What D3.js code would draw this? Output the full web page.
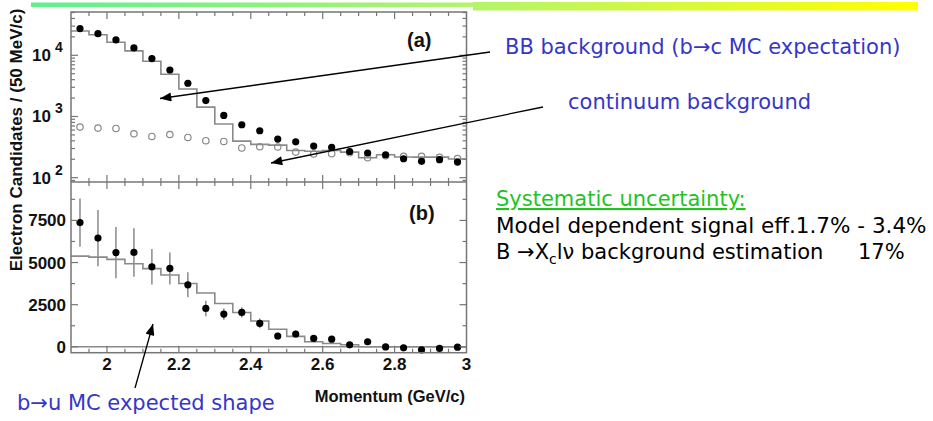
<!DOCTYPE html>
<html>
<head>
<meta charset="utf-8">
<script src="https://cdn.jsdelivr.net/npm/d3@7"></script>
<style>
  body { margin: 0; background: #fff; }
  svg { display: block; }
  .tick-label { font-family: "Liberation Sans", Arial, sans-serif; font-weight: bold; font-size: 17px; fill: #111; }
  .note { font-family: "DejaVu Sans", Verdana, sans-serif; font-size: 21px; }
</style>
</head>
<body>
<script>
var w = 933;
var h = 421;

// Data - momentum bin centres (GeV/c), 50 MeV bins
var momentum = [1.925, 1.975, 2.025, 2.075, 2.125, 2.175, 2.225, 2.275, 2.325, 2.375, 2.425,
                2.475, 2.525, 2.575, 2.625, 2.675, 2.725, 2.775, 2.825, 2.875, 2.925, 2.975];
var binWidth = 0.05;

// panel (a): on-resonance data, continuum, b->c MC
var onData    = [27300, 22600, 17800, 13200, 8840, 5750, 3490, 1820, 1040, 733, 585,
                 428, 386, 329, 312, 268, 253, 237, 204, 185, 197, 180];
var continuum = [671, 646, 637, 522, 472, 508, 454, 402, 391, 306, 320,
                 318, 262, 244, 247, 255, 212, 228, 223, 223, 215, 205];
var bcMC      = [24900, 21700, 16300, 11800, 7980, 4900, 2820, 1420, 752, 396, 350,
                 340, 278, 270, 278, 262, 212, 237, 218, 217, 217, 202];

// panel (b): background-subtracted yield and b->u MC
var signal    = [7370, 6450, 5590, 5600, 4750, 4650, 3680, 2275, 1940, 2040, 1390,
                 640, 760, 497, 455, 115, 300, -5, -60, -180, -95, -20];
var sigErr    = [1430, 1670, 1520, 1440, 1060, 950, 740, 460, 330, 300, 290,
                 200, 200, 180, 170, 160, 170, 150, 150, 150, 150, 150];
var buMC      = [5380, 5320, 5190, 4930, 4640, 4260, 3760, 3190, 2570, 2040, 1530,
                 1040, 620, 300, 200, 118, 0, 0, 0, 0, 0, 0];

var xTicks = [2, 2.2, 2.4, 2.6, 2.8, 3];
var logTicks = [100, 1000, 10000];
var linTicks = [0, 2500, 5000, 7500];

var svg = d3.select("body").append("svg")
    .attr("width", w)
    .attr("height", h);

// title bar gradient
var defs = svg.append("defs");
var grad = defs.append("linearGradient").attr("id", "bar")
    .attr("gradientUnits", "userSpaceOnUse")
    .attr("x1", 31).attr("x2", 918).attr("y1", 0).attr("y2", 0);
grad.append("stop").attr("offset", "0%").attr("stop-color", "#5ef08e");
grad.append("stop").attr("offset", "50%").attr("stop-color", "#b4f46c");
grad.append("stop").attr("offset", "100%").attr("stop-color", "#ffff00");
svg.append("rect").attr("x", 31).attr("y", 2.5).attr("width", 442).attr("height", 4.5).attr("fill", "url(#bar)");
svg.append("rect").attr("x", 473).attr("y", 2).attr("width", 445).attr("height", 8.5).attr("fill", "url(#bar)");

defs.append("marker").attr("id", "head")
    .attr("viewBox", "0 0 10 8")
    .attr("refX", 10).attr("refY", 4)
    .attr("markerUnits", "userSpaceOnUse")
    .attr("markerWidth", 13).attr("markerHeight", 9)
    .attr("orient", "auto")
  .append("path").attr("d", "M0,0L10,4L0,8Z").attr("fill", "#000");

// scales
var left = 71, right = 466.5;
var aTop = 12, mid = 182, bBot = 352.7;

var xScale = d3.scaleLinear().domain([1.9, 3.0]).range([left, right]);
var yLog = d3.scaleLog().domain([85, 51000]).range([mid, aTop]);
var yLin = d3.scaleLinear().domain([-350, 9780]).range([bBot, mid]);

var frameCol = "#767676";
var histCol = "#8a8a8a";

// histogram step helper
function stepPts(vals) {
    var pts = momentum.map(function(m, i) { return [m - binWidth / 2, vals[i]]; });
    pts.push([momentum[momentum.length - 1] + binWidth / 2, vals[vals.length - 1]]);
    return pts;
}

// ---- panel (a)
var gA = svg.append("g");
var histA = d3.line()
    .x(function(d) { return xScale(d[0]); })
    .y(function(d) { return yLog(d[1]); })
    .curve(d3.curveStepAfter);
gA.append("path")
    .attr("d", histA(stepPts(bcMC)))
    .attr("fill", "none").attr("stroke", histCol).attr("stroke-width", 1.6);

gA.selectAll("circle.cont")
    .data(continuum)
    .enter().append("circle")
    .attr("class", "cont")
    .attr("cx", function(d, i) { return xScale(momentum[i]); })
    .attr("cy", function(d) { return yLog(d); })
    .attr("r", 3.2)
    .attr("fill", "none").attr("stroke", "#888").attr("stroke-width", 1.2);

gA.selectAll("circle.on")
    .data(onData)
    .enter().append("circle")
    .attr("class", "on")
    .attr("cx", function(d, i) { return xScale(momentum[i]); })
    .attr("cy", function(d) { return yLog(d); })
    .attr("r", 3.6)
    .attr("fill", "#000");

// ---- panel (b)
var gB = svg.append("g");
gB.append("line")
    .attr("x1", left).attr("x2", right)
    .attr("y1", yLin(0)).attr("y2", yLin(0))
    .attr("stroke", histCol).attr("stroke-width", 1.4);

var histB = d3.line()
    .x(function(d) { return xScale(d[0]); })
    .y(function(d) { return yLin(d[1]); })
    .curve(d3.curveStepAfter);
gB.append("path")
    .attr("d", histB(stepPts(buMC)))
    .attr("fill", "none").attr("stroke", histCol).attr("stroke-width", 1.6);

gB.selectAll("line.err")
    .data(signal)
    .enter().append("line")
    .attr("class", "err")
    .attr("x1", function(d, i) { return xScale(momentum[i]); })
    .attr("x2", function(d, i) { return xScale(momentum[i]); })
    .attr("y1", function(d, i) { return yLin(d - sigErr[i]); })
    .attr("y2", function(d, i) { return yLin(d + sigErr[i]); })
    .attr("stroke", "#8a8a8a").attr("stroke-width", 1.5);

gB.selectAll("circle.sig")
    .data(signal)
    .enter().append("circle")
    .attr("class", "sig")
    .attr("cx", function(d, i) { return xScale(momentum[i]); })
    .attr("cy", function(d) { return yLin(d); })
    .attr("r", 3.6)
    .attr("fill", "#000");

// ---- frames and ticks
svg.append("rect").attr("x", left).attr("y", aTop)
    .attr("width", right - left).attr("height", bBot - aTop)
    .attr("fill", "none").attr("stroke", frameCol).attr("stroke-width", 1.5);
svg.append("line").attr("x1", left).attr("x2", right).attr("y1", mid).attr("y2", mid)
    .attr("stroke", frameCol).attr("stroke-width", 1.5);

var xMinor = d3.range(1.95, 3.0, 0.05);
var ticks = svg.append("g").attr("stroke", frameCol).attr("stroke-width", 1.2);
xMinor.forEach(function(v) {
    var major = Math.abs(v * 5 - Math.round(v * 5)) < 1e-6;
    var len = major ? 7 : 4;
    var x = xScale(v);
    ticks.append("line").attr("x1", x).attr("x2", x).attr("y1", aTop).attr("y2", aTop + len);
    ticks.append("line").attr("x1", x).attr("x2", x).attr("y1", mid - len).attr("y2", mid + len);
    ticks.append("line").attr("x1", x).attr("x2", x).attr("y1", bBot - len).attr("y2", bBot);
});

// log ticks on both sides of panel (a)
yLog.ticks().forEach(function(v) {
    if (v < 85 || v > 51000) return;
    var major = logTicks.indexOf(v) >= 0;
    var len = major ? 7 : 4;
    var y = yLog(v);
    ticks.append("line").attr("x1", left).attr("x2", left + len).attr("y1", y).attr("y2", y);
    ticks.append("line").attr("x1", right - len).attr("x2", right).attr("y1", y).attr("y2", y);
});
d3.range(0, 9780, 1250).forEach(function(v) {
    var major = linTicks.indexOf(v) >= 0;
    var len = major ? 7 : 4;
    var y = yLin(v);
    ticks.append("line").attr("x1", left).attr("x2", left + len).attr("y1", y).attr("y2", y);
    ticks.append("line").attr("x1", right - len).attr("x2", right).attr("y1", y).attr("y2", y);
});

// tick labels
var labels = svg.append("g").attr("class", "tick-label");
xTicks.forEach(function(v) {
    labels.append("text").attr("x", xScale(v)).attr("y", 370)
        .attr("text-anchor", "middle").text(d3.format("")(v));
});
logTicks.forEach(function(v) {
    var y = yLog(v);
    labels.append("text").attr("x", 51).attr("y", y + 6)
        .attr("text-anchor", "end").text("10");
    labels.append("text").attr("x", 55).attr("y", y - 3)
        .style("font-size", "14px").text(Math.round(Math.log10(v)));
});
linTicks.forEach(function(v) {
    labels.append("text").attr("x", 66).attr("y", yLin(v) + 6)
        .attr("text-anchor", "end").text(v);
});

labels.append("text").attr("x", 465).attr("y", 402).attr("text-anchor", "end")
    .style("font-size", "16.5px")
    .text("Momentum (GeV/c)");
labels.append("text")
    .attr("transform", "translate(22,140) rotate(-90)")
    .attr("text-anchor", "middle")
    .style("font-size", "17px")
    .text("Electron Candidates / (50 MeV/c)");
labels.append("text").attr("x", 407).attr("y", 47).style("font-size", "20px").text("(a)");
labels.append("text").attr("x", 409).attr("y", 220).style("font-size", "20px").text("(b)");

// ---- annotations
var arrows = [
    [[490, 52], [160, 98.5]],
    [[543, 107], [271, 163]],
    [[135, 388], [153, 324]]
];
svg.selectAll("line.arrow")
    .data(arrows)
    .enter().append("line")
    .attr("class", "arrow")
    .attr("x1", function(d) { return d[0][0]; })
    .attr("y1", function(d) { return d[0][1]; })
    .attr("x2", function(d) { return d[1][0]; })
    .attr("y2", function(d) { return d[1][1]; })
    .attr("stroke", "#000").attr("stroke-width", 1.3)
    .attr("marker-end", "url(#head)");

var blue = "#3636c8";
svg.append("text").attr("class", "note").attr("x", 505).attr("y", 54).attr("fill", blue)
    .text("BB background (b\u2192c MC expectation)");
svg.append("text").attr("class", "note").attr("x", 568).attr("y", 109).attr("fill", blue)
    .text("continuum background");
svg.append("text").attr("class", "note").attr("x", 17).attr("y", 410).attr("fill", blue)
    .text("b\u2192u MC expected shape");

svg.append("text").attr("class", "note").attr("x", 496).attr("y", 206).attr("fill", "#1fc41f")
    .attr("text-decoration", "underline")
    .text("Systematic uncertainty:");
svg.append("text").attr("class", "note").attr("x", 496).attr("y", 233).attr("fill", "#000")
    .style("font-size", "21.5px")
    .text("Model dependent signal eff.1.7% - 3.4%");
var t3 = svg.append("text").attr("class", "note").attr("x", 496).attr("y", 259).attr("fill", "#000");
t3.append("tspan").text("B \u2192X");
t3.append("tspan").attr("font-size", 14).attr("dy", 5).text("c");
t3.append("tspan").attr("dy", -5).text("l\u03bd background estimation");
svg.append("text").attr("class", "note").attr("x", 858).attr("y", 259).attr("fill", "#000")
    .text("17%");
</script>
</body>
</html>
